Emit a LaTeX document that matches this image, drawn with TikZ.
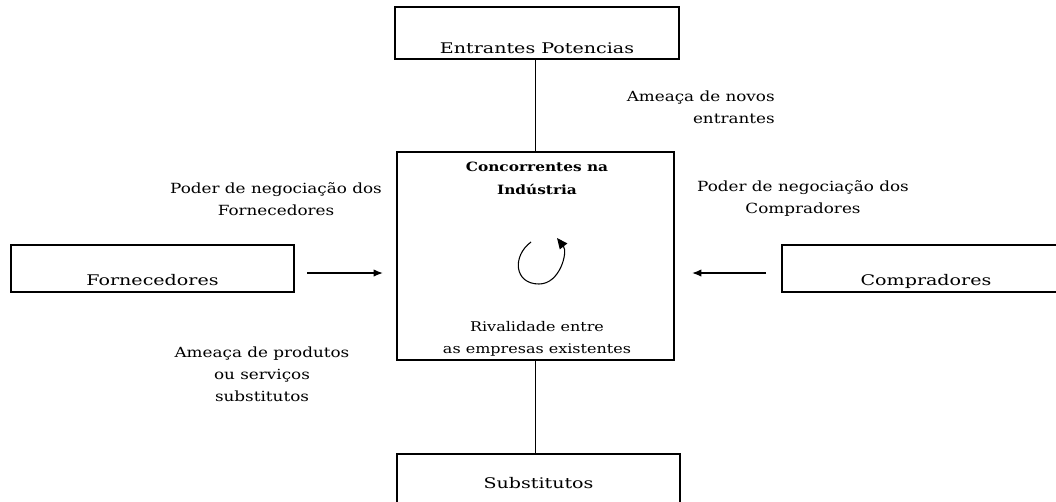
\documentclass[tikz,border=0pt]{standalone}
\usepackage{fontspec}
\setmainfont{DejaVu Serif}
\newfontfamily\boxfont[FakeStretch=1.3]{DejaVu Serif}
\newfontfamily\lblfont[FakeStretch=1.2]{DejaVu Serif}
\usetikzlibrary{arrows.meta}
\begin{document}
\begin{tikzpicture}[x=0.75pt,y=-0.75pt,
  box/.style={draw, line width=1pt, rectangle, inner xsep=0pt, inner ysep=0pt, font=\boxfont\fontsize{11}{13}\selectfont},
  lbl/.style={font=\lblfont\fontsize{10.5}{16.5}\selectfont, align=center, inner sep=0pt},
  clbl/.style={font=\lblfont\fontsize{10}{16.5}\selectfont, align=center, inner sep=0pt},
  conn/.style={line width=1pt},
  arr/.style={line width=1pt, -{Latex[length=7pt,width=5.5pt]}}
]
\useasboundingbox (0,0) rectangle (1056,501);
\clip (0,0) rectangle (1056,501);

\node[box, minimum width=213pt, text height=34.5pt, text depth=4.5pt] (ent) at (537,33) {Entrantes Potencias};
\node[box, minimum width=212.25pt, text height=30pt, text depth=5.25pt] (forn) at (152.5,268.5) {Fornecedores};
\node[box, minimum width=216pt, text height=30pt, text depth=5.25pt] (comp) at (926,268.5) {Compradores};
\node[box, minimum width=212.25pt, text height=25.5pt, text depth=13.5pt] (subs) at (538.5,480) {Substitutos};
\node[draw, line width=1pt, minimum width=207.75pt, minimum height=156pt, inner sep=0pt] (conc) at (535.5,256) {};

\node[clbl, font=\lblfont\fontsize{9.6}{17.25}\selectfont\bfseries] (tconc) at (537,178) {Concorrentes na\\Indústria};
\node[clbl] (triv) at (537,339) {Rivalidade entre\\as empresas existentes};
\node[lbl, align=right, anchor=east] (tnov) at (775,107) {Ameaça de novos\\entrantes};
\node[lbl] (tpf) at (276,199) {Poder de negociação dos\\Fornecedores};
\node[lbl] (tpc) at (803,199) {Poder de negociação dos\\Compradores};
\node[lbl] (tsub) at (262,374) {Ameaça de produtos\\ou serviços\\substitutos};

\draw[conn] (conc.north) -- (conc.north |- ent.south);
\draw[conn] (conc.south) -- (conc.south |- subs.north);

\coordinate (fa) at (307,273);
\coordinate (fb) at (383,273);
\coordinate (ca) at (766,273);
\coordinate (cb) at (692,273);
\draw[arr] (fa) -- (fb);
\draw[arr] (ca) -- (cb);

\draw[line width=0.8pt, -{Triangle[length=8pt,width=7pt]}] (531,242) .. controls (512,256) and (514,284) .. (539,284) .. controls (560,284) and (568,252) .. (557,238);
\end{tikzpicture}
\end{document}
